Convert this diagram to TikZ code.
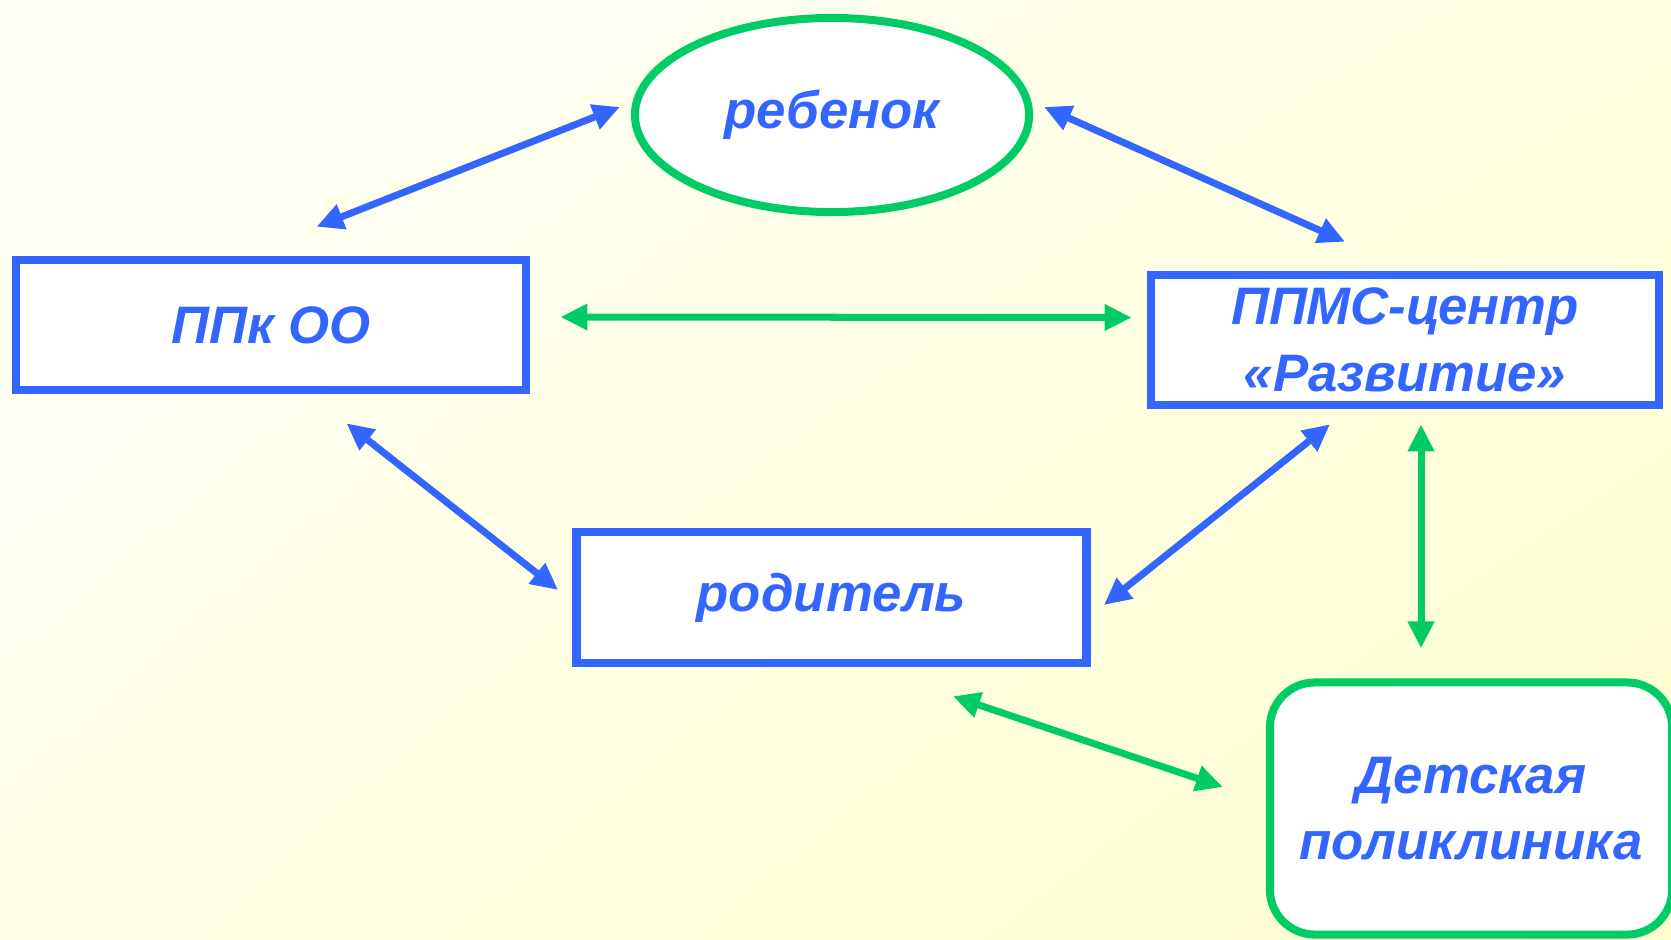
\documentclass[tikz,border=0pt]{standalone}
\usepackage{fontspec}
\setmainfont{Liberation Sans}
\usepackage{tikz}
\usetikzlibrary{shapes.geometric, shadings}
\usetikzlibrary{arrows.meta, positioning}

\definecolor{sheme}{HTML}{3366FF}
\definecolor{zelen}{HTML}{00CC66}
\definecolor{fonA}{RGB}{255,255,248}
\definecolor{fonB}{RGB}{255,255,226}
\definecolor{fonC}{RGB}{255,255,232}
\definecolor{fonD}{RGB}{255,255,204}

\begin{document}
\begin{tikzpicture}[
        x=0.01cm, y=-0.01cm,
        blok/.style={rectangle, draw=sheme, line width=0.085cm, fill=white, minimum width=5.1cm, minimum height=1.3cm, align=center},
        every node/.style={font=\fontsize{15}{19}\selectfont\bfseries\itshape, text=sheme},
        sinstr/.style={{Triangle[length=0.27cm, width=0.25cm]}-{Triangle[length=0.27cm, width=0.25cm]}, line width=0.07cm, draw=sheme},
        zelstr/.style={{Triangle[length=0.27cm, width=0.25cm]}-{Triangle[length=0.27cm, width=0.25cm]}, line width=0.07cm, draw=zelen}
    ]

        % fon
        \shade[upper left=fonA, upper right=fonB, lower left=fonC, lower right=fonD] (0,0) rectangle (1671,939);
        \useasboundingbox (0,0) rectangle (1671,939);

        % rebenok
        \node[ellipse, draw=zelen, line width=0.08cm, fill=white, minimum width=3.94cm, minimum height=1.94cm, inner sep=0pt] (reb) at (832,115) {ребенок};

        % PPk OO
        \node[blok] (ppk) at (271,325) {ППк ОО};

        % PPMS-centr
        \node[blok, minimum width=5.08cm] (ppms) at (1405,340) {ППМС-центр\\«Развитие»};

        % roditel
        \node[blok, minimum height=1.31cm] (rod) at (831.5,597.5) {родитель};

        % poliklinika
        \node[rectangle, rounded corners=0.45cm, draw=zelen, line width=0.08cm, fill=white, minimum width=4.02cm, minimum height=2.52cm, align=center] (det) at (1471,808.5) {Детская\\поликлиника};

        \draw[sinstr] ([shift={(45.5,-29)}]ppk.north) -- ([shift={(-11,-8)}]reb.west);
        \draw[sinstr] ([shift={(11,-8)}]reb.east) -- ([shift={(-60,-29)}]ppms.north);
        \draw[zelstr] ([shift={(30,-8)}]ppk.east) -- ([shift={(-15,-22.5)}]ppms.west);
        \draw[sinstr] ([shift={(75.5,29)}]ppk.south) -- ([shift={(-14,-7.5)}]rod.west);
        \draw[sinstr] ([shift={(-75,15)}]ppms.south) -- ([shift={(13,7.5)}]rod.east);
        \draw[zelstr] ([shift={(16,15)}]ppms.south) -- ([shift={(-50,-30)}]det.north);
        \draw[zelstr] ([shift={(121.5,29)}]rod.south) -- ([shift={(-43,-21.5)}]det.west);

    \end{tikzpicture}
\end{document}
